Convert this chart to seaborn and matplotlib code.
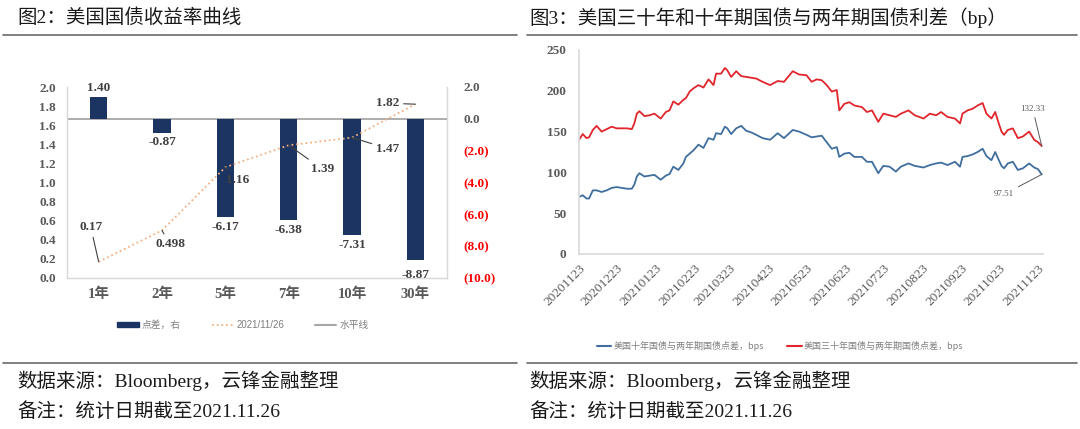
import numpy as np
import pandas as pd
import matplotlib
matplotlib.use('Agg')
import matplotlib.pyplot as plt
import matplotlib.dates as mdates
from matplotlib.lines import Line2D
from matplotlib.patches import Patch
from matplotlib.ticker import FixedLocator, FixedFormatter
import seaborn as sns

# ---- figure 2: yield curve ----
tenors = ['1年', '2年', '5年', '7年', '10年', '30年']
yields_1126 = [0.17, 0.498, 1.16, 1.39, 1.47, 1.82]
yield_labels = ['0.17', '0.498', '1.16', '1.39', '1.47', '1.82']
spread_bp = [1.40, -0.87, -6.17, -6.38, -7.31, -8.87]

# ---- figure 3: 10y-2y and 30y-2y spreads (bp) ----
spread_dates = [
    '2020-11-23', '2020-11-26', '2020-11-29', '2020-12-01', '2020-12-04', '2020-12-07',
    '2020-12-11', '2020-12-15', '2020-12-19', '2020-12-23', '2020-12-27', '2020-12-31',
    '2021-01-04', '2021-01-06', '2021-01-08', '2021-01-10', '2021-01-14', '2021-01-18',
    '2021-01-22', '2021-01-27', '2021-01-31', '2021-02-03', '2021-02-06', '2021-02-10',
    '2021-02-14', '2021-02-16', '2021-02-19', '2021-02-22', '2021-02-26', '2021-03-02',
    '2021-03-06', '2021-03-10', '2021-03-12', '2021-03-16', '2021-03-19', '2021-03-21',
    '2021-03-24', '2021-03-28', '2021-04-01', '2021-04-05', '2021-04-09', '2021-04-13',
    '2021-04-18', '2021-04-24', '2021-04-30', '2021-05-05', '2021-05-12', '2021-05-17',
    '2021-05-23', '2021-05-27', '2021-05-31', '2021-06-04', '2021-06-08', '2021-06-12',
    '2021-06-16', '2021-06-18', '2021-06-22', '2021-06-26', '2021-06-30', '2021-07-06',
    '2021-07-10', '2021-07-14', '2021-07-19', '2021-07-23', '2021-07-28', '2021-08-02',
    '2021-08-06', '2021-08-12', '2021-08-17', '2021-08-24', '2021-08-29', '2021-09-03',
    '2021-09-07', '2021-09-12', '2021-09-18', '2021-09-22', '2021-09-24', '2021-09-28',
    '2021-10-02', '2021-10-06', '2021-10-10', '2021-10-13', '2021-10-17', '2021-10-20',
    '2021-10-22', '2021-10-25', '2021-10-27', '2021-10-30', '2021-11-03', '2021-11-07',
    '2021-11-11', '2021-11-16', '2021-11-20', '2021-11-23', '2021-11-26',
]
spread_10y = [
    70, 72, 68, 68, 78, 78, 76, 78, 81, 82, 81, 80,
    80, 85, 95, 99, 95, 96, 97, 91, 96, 98, 107, 103,
    111, 119, 123, 127, 134, 130, 142, 140, 148, 147, 156, 154,
    147, 154, 157, 151, 149, 146, 142, 140, 148, 142, 152, 150,
    146, 143, 144, 145, 137, 129, 131, 119, 123, 124, 119, 119,
    113, 113, 99, 108, 107, 101, 107, 111, 108, 106, 109, 111,
    112, 109, 113, 107, 119, 120, 122, 125, 129, 120, 115, 125,
    118, 108, 105, 111, 113, 103, 105, 111, 106, 104, 97.51,
]
spread_30y = [
    140, 147, 142, 143, 152, 157, 150, 153, 156, 154, 154, 154,
    153, 160, 172, 175, 169, 170, 172, 166, 174, 176, 187, 183,
    189, 191, 199, 203, 207, 204, 214, 207, 221, 221, 228, 225,
    217, 224, 218, 217, 216, 215, 211, 207, 212, 211, 224, 220,
    219, 211, 214, 213, 207, 199, 201, 176, 184, 186, 182, 180,
    174, 176, 162, 172, 170, 168, 172, 176, 170, 166, 172, 170,
    174, 168, 166, 160, 172, 176, 178, 182, 185, 172, 166, 174,
    164, 150, 146, 152, 154, 142, 144, 150, 140, 137, 132.33,
]

W, H = 1080, 429
navy = '#1B3461'
orange = '#F4B183'
hline_grey = '#A6A6A6'
blue = '#3F6E9E'
red = '#E0262C'
txt = '#404040'
tick_grey = '#595959'
spine_grey = '#D9D9D9'

sns.set_style('white')
plt.rcParams['font.family'] = ['Liberation Serif', 'Noto Sans CJK SC']
plt.rcParams['axes.unicode_minus'] = False
cjk = ['Noto Sans CJK SC', 'DejaVu Sans']
sans = ['Liberation Sans', 'Noto Sans CJK SC']

fig = plt.figure(figsize=(W / 100, H / 100), dpi=100)


def fx(px):
    return px / W


def fy(py):
    return 1 - py / H


# titles, rules and footers
fig.text(fx(17), fy(18), '图2：美国国债收益率曲线', fontsize=14, va='center', color='#1a1a1a')
fig.text(fx(529), fy(18), '图3：美国三十年和十年期国债与两年期国债利差（bp）', fontsize=14,
         va='center', color='#1a1a1a')
for x0, x1, xt in [(3, 517, 17), (527, 1077, 529)]:
    for yy in (35, 363):
        fig.add_artist(Line2D([fx(x0), fx(x1)], [fy(yy), fy(yy)], color='#6b6b6b', lw=1.2))
    fig.text(fx(xt), fy(381), '数据来源：Bloomberg，云锋金融整理', fontsize=14,
             va='center', color='#1a1a1a')
    fig.text(fx(xt), fy(412), '备注：统计日期截至2021.11.26', fontsize=14,
             va='center', color='#1a1a1a')

# ---------- left chart ----------
ax = fig.add_axes([fx(67), fy(278), (447 - 67) / W, (278 - 87) / H])
ax2 = ax.twinx()

df_curve = pd.DataFrame({'tenor': tenors, 'yield': yields_1126, 'spread': spread_bp})
sns.barplot(data=df_curve, x='tenor', y='spread', ax=ax2, color=navy, width=0.27,
            saturation=1, linewidth=0, zorder=2)
ax2.axhline(0, color=hline_grey, lw=1.3, zorder=1)
sns.lineplot(x=np.arange(len(tenors)), y=df_curve['yield'], ax=ax, color=orange,
             linestyle=(0, (1, 1.6)), lw=1.3)

ax.set_zorder(ax2.get_zorder() + 1)
ax.patch.set_visible(False)
ax.set_xlim(-0.5, len(tenors) - 0.5)
ax.set_ylim(0, 2)
ax2.set_ylim(-10, 2)
ax.set_xlabel('')
ax.set_ylabel('')
ax2.set_xlabel('')
ax2.set_ylabel('')

ax.set_xticks(np.arange(len(tenors)))
ax.set_xticklabels(tenors, fontsize=10.5, fontweight='bold', color=tick_grey)
ax.tick_params(axis='x', length=0, pad=7)
lt = np.round(np.arange(0, 2.01, 0.2), 1)
ax.yaxis.set_major_locator(FixedLocator(lt))
ax.yaxis.set_major_formatter(FixedFormatter([f'{v:.1f}' for v in lt]))
ax.tick_params(axis='y', length=0, pad=8)
for lab in ax.get_yticklabels():
    lab.set_fontweight('bold')
    lab.set_fontsize(9.5)
    lab.set_color(tick_grey)

rt = np.arange(2, -10.1, -2)
ax2.yaxis.set_major_locator(FixedLocator(rt))
ax2.yaxis.set_major_formatter(FixedFormatter(
    [f'{v:.1f}' if v >= 0 else f'({-v:.1f})' for v in rt]))
ax2.tick_params(axis='y', length=0, pad=12)
for v, lab in zip(rt, ax2.get_yticklabels()):
    lab.set_fontweight('bold')
    lab.set_fontsize(9.5)
    lab.set_color(tick_grey if v >= 0 else '#FF0000')

for a in (ax, ax2):
    for s in ['top']:
        a.spines[s].set_visible(False)
    for s in ['left', 'right', 'bottom']:
        a.spines[s].set_color(spine_grey)
        a.spines[s].set_linewidth(0.9)

# bar labels
bar_offsets = [3, -3, -4, -4, -4, -9]
for i, (v, off) in enumerate(zip(spread_bp, bar_offsets)):
    ax2.annotate(f'{v:.2f}', xy=(i, v), xytext=(0, off), textcoords='offset pixels',
                 ha='center', va='bottom' if v >= 0 else 'top', fontsize=9.5,
                 fontweight='bold', color=txt, zorder=5)

# line labels with leader lines
line_offsets = [(-8, 35), (8, -14), (12, -13), (34, -24), (36, -11), (-28, 1)]
for i, (v, lab, off) in enumerate(zip(yields_1126, yield_labels, line_offsets)):
    ax.annotate(lab, xy=(i, v), xytext=off, textcoords='offset pixels', ha='center',
                va='center', fontsize=9.5, fontweight='bold', color=txt,
                arrowprops=dict(arrowstyle='-', color='#404040', lw=0.8,
                                shrinkA=1, shrinkB=0))

handles = [Patch(facecolor=navy, edgecolor=navy),
           Line2D([], [], color=orange, linestyle=(0, (1, 1.6)), lw=1.3),
           Line2D([], [], color=hline_grey, lw=1.5)]
leg = fig.legend(handles, ['点差，右', '2021/11/26', '水平线'], loc='center',
                 bbox_to_anchor=(fx(243), fy(325)), ncol=3, frameon=False,
                 fontsize=7, handlelength=2.2, handleheight=0.5, columnspacing=3.2,
                 handletextpad=0.3)
for t in leg.get_texts():
    t.set_color('#7f7f7f')
    t.set_family(sans if t.get_text()[0].isdigit() else cjk)

# ---------- right chart ----------
axr = fig.add_axes([fx(579), fy(254), (1043 - 579) / W, (254 - 50) / H])
df_ts = pd.DataFrame({'date': pd.to_datetime(spread_dates),
                      '10y': spread_10y, '30y': spread_30y})
long_ts = df_ts.melt('date', var_name='series', value_name='bp')
sns.lineplot(data=long_ts, x='date', y='bp', hue='series',
             palette={'10y': blue, '30y': red}, ax=axr, lw=1.3, legend=False)
axr.set_xlim(pd.Timestamp('2020-11-23'), pd.Timestamp('2021-11-27'))
axr.set_ylim(0, 250)
axr.set_xlabel('')
axr.set_ylabel('')
axr.xaxis.set_major_locator(mdates.MonthLocator(bymonthday=23))
axr.xaxis.set_major_formatter(mdates.DateFormatter('%Y%m%d'))
axr.yaxis.set_major_locator(FixedLocator(np.arange(0, 251, 50)))
axr.tick_params(axis='x', length=4, color=spine_grey, pad=2, labelsize=9.5,
                labelcolor=tick_grey, rotation=45)
for lab in axr.get_xticklabels():
    lab.set_ha('right')
    lab.set_rotation_mode('anchor')
axr.tick_params(axis='y', length=3, color=spine_grey, pad=6, labelsize=9.5,
                labelcolor=tick_grey)
for lab in axr.get_yticklabels():
    lab.set_fontweight('bold')
for s in ['top', 'right']:
    axr.spines[s].set_visible(False)
for s in ['left', 'bottom']:
    axr.spines[s].set_color(spine_grey)
    axr.spines[s].set_linewidth(1.2)

last_date = df_ts['date'].iloc[-1]
axr.annotate(f'{spread_30y[-1]:.2f}', xy=(last_date, spread_30y[-1]), xytext=(-9, 37),
             textcoords='offset pixels', ha='center', va='center', fontsize=6.5,
             color=tick_grey,
             arrowprops=dict(arrowstyle='-', color='#595959', lw=0.7, shrinkA=1, shrinkB=0))
axr.annotate(f'{spread_10y[-1]:.2f}', xy=(last_date, spread_10y[-1]), xytext=(-38, -20),
             textcoords='offset pixels', ha='center', va='center', fontsize=6.5,
             color=tick_grey,
             arrowprops=dict(arrowstyle='-', color='#595959', lw=0.7, shrinkA=1, shrinkB=0))

rhandles = [Line2D([], [], color=blue, lw=1.5), Line2D([], [], color=red, lw=1.5)]
rleg = fig.legend(rhandles, ['美国十年国债与两年期国债点差，bps', '美国三十年国债与两年期国债点差，bps'],
                  loc='center', bbox_to_anchor=(fx(780), fy(346)), ncol=2, frameon=False,
                  handlelength=1.6, columnspacing=2.6, handletextpad=0.2,
                  prop={'family': cjk, 'size': 6.5})
for t in rleg.get_texts():
    t.set_color('#7f7f7f')

fig.savefig('out.png', dpi=100)
